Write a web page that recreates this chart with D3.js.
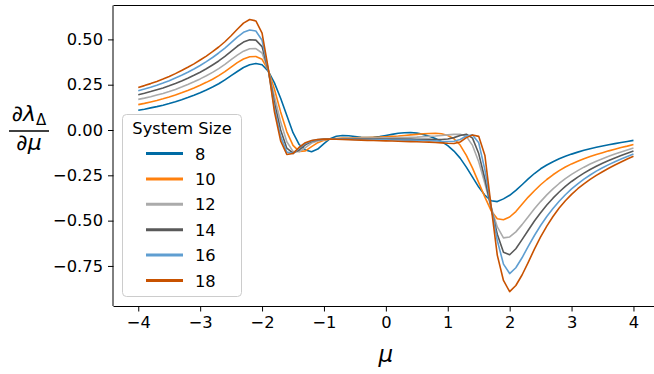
<!DOCTYPE html>
<html>
<head>
<meta charset="utf-8">
<script src="https://cdn.jsdelivr.net/npm/d3@7"></script>
<style>
  body { margin: 0; background: #fff; }
  svg { font-family: "DejaVu Sans", sans-serif; }
  .axis text { font-family: "DejaVu Sans", sans-serif; font-size: 16.3px; fill: #000; }
  .axis path, .axis line { stroke: #000; stroke-width: 1; }
</style>
</head>
<body>
<div id="chart"></div>
<script>
// mu grid, -4 .. 4 in steps of 0.1
const mu = d3.range(81).map(i => +(-4 + i * 0.1).toFixed(1));

const sizes = ["8", "10", "12", "14", "16", "18"];
const colors = ["#006BA4", "#FF800E", "#ABABAB", "#595959", "#5F9ED1", "#C85200"];

const s8 = [
  0.109, 0.115, 0.122, 0.129, 0.137, 0.146, 0.156, 0.167, 0.179, 0.192,
  0.206, 0.221, 0.237, 0.255, 0.277, 0.300, 0.323, 0.345, 0.360, 0.367,
  0.360, 0.325, 0.260, 0.175, 0.080, -0.015, -0.080, -0.110, -0.120, -0.105,
  -0.075, -0.048, -0.034, -0.030, -0.032, -0.036, -0.040, -0.042, -0.040, -0.036,
  -0.030, -0.024, -0.018, -0.015, -0.014, -0.017, -0.024, -0.034, -0.047, -0.064,
  -0.086, -0.116, -0.155, -0.205, -0.260, -0.315, -0.360, -0.390, -0.395, -0.380,
  -0.360, -0.333, -0.302, -0.270, -0.240, -0.214, -0.193, -0.175, -0.159, -0.145,
  -0.133, -0.122, -0.112, -0.103, -0.095, -0.088, -0.081, -0.075, -0.069, -0.063,
  -0.057
];
const s10 = [
  0.140, 0.147, 0.155, 0.163, 0.172, 0.182, 0.193, 0.205, 0.218, 0.232,
  0.247, 0.263, 0.280, 0.300, 0.322, 0.347, 0.372, 0.392, 0.404, 0.406,
  0.390, 0.330, 0.225, 0.100, -0.010, -0.085, -0.118, -0.115, -0.092, -0.070,
  -0.057, -0.050, -0.047, -0.045, -0.044, -0.043, -0.042, -0.041, -0.040, -0.039,
  -0.037, -0.035, -0.033, -0.030, -0.027, -0.024, -0.021, -0.019, -0.018, -0.021,
  -0.030, -0.048, -0.083, -0.140, -0.210, -0.290, -0.370, -0.445, -0.490, -0.495,
  -0.480, -0.450, -0.410, -0.370, -0.335, -0.302, -0.273, -0.247, -0.224, -0.204,
  -0.187, -0.172, -0.158, -0.146, -0.135, -0.125, -0.115, -0.106, -0.097, -0.089,
  -0.080
];
const s12 = [
  0.169, 0.176, 0.184, 0.193, 0.202, 0.212, 0.224, 0.237, 0.251, 0.266,
  0.282, 0.299, 0.318, 0.339, 0.362, 0.388, 0.413, 0.435, 0.448, 0.449,
  0.425, 0.330, 0.185, 0.045, -0.065, -0.118, -0.120, -0.097, -0.072, -0.060,
  -0.053, -0.050, -0.048, -0.047, -0.046, -0.046, -0.045, -0.045, -0.044, -0.044,
  -0.043, -0.043, -0.042, -0.041, -0.040, -0.039, -0.037, -0.035, -0.033, -0.030,
  -0.027, -0.024, -0.023, -0.035, -0.085, -0.175, -0.295, -0.425, -0.535, -0.595,
  -0.590, -0.562, -0.522, -0.478, -0.435, -0.395, -0.358, -0.325, -0.295, -0.268,
  -0.245, -0.224, -0.205, -0.188, -0.172, -0.158, -0.145, -0.133, -0.121, -0.110,
  -0.099
];
const s14 = [
  0.195, 0.203, 0.212, 0.222, 0.232, 0.244, 0.257, 0.271, 0.286, 0.302,
  0.319, 0.338, 0.359, 0.381, 0.406, 0.434, 0.462, 0.485, 0.498, 0.496,
  0.460, 0.330, 0.150, 0.000, -0.100, -0.127, -0.110, -0.082, -0.063, -0.055,
  -0.051, -0.050, -0.050, -0.050, -0.050, -0.050, -0.050, -0.050, -0.050, -0.050,
  -0.050, -0.050, -0.050, -0.050, -0.050, -0.051, -0.051, -0.051, -0.052, -0.052,
  -0.050, -0.042, -0.030, -0.023, -0.045, -0.130, -0.270, -0.430, -0.575, -0.675,
  -0.688, -0.655, -0.605, -0.553, -0.502, -0.456, -0.414, -0.376, -0.342, -0.311,
  -0.284, -0.260, -0.238, -0.218, -0.200, -0.183, -0.168, -0.154, -0.141, -0.128,
  -0.116
];
const s16 = [
  0.217, 0.226, 0.236, 0.247, 0.259, 0.272, 0.287, 0.302, 0.319, 0.337,
  0.356, 0.377, 0.400, 0.425, 0.452, 0.482, 0.513, 0.539, 0.552, 0.546,
  0.495, 0.335, 0.120, -0.035, -0.122, -0.130, -0.100, -0.074, -0.060, -0.053,
  -0.050, -0.050, -0.050, -0.051, -0.051, -0.052, -0.052, -0.053, -0.053, -0.054,
  -0.054, -0.055, -0.055, -0.056, -0.056, -0.057, -0.058, -0.059, -0.060, -0.062,
  -0.063, -0.062, -0.052, -0.033, -0.027, -0.070, -0.220, -0.420, -0.610, -0.740,
  -0.792, -0.760, -0.705, -0.642, -0.582, -0.527, -0.477, -0.433, -0.393, -0.357,
  -0.325, -0.297, -0.271, -0.248, -0.227, -0.208, -0.191, -0.175, -0.160, -0.146,
  -0.132
];
const s18 = [
  0.235, 0.245, 0.256, 0.268, 0.281, 0.295, 0.311, 0.328, 0.346, 0.365,
  0.386, 0.408, 0.432, 0.458, 0.487, 0.520, 0.556, 0.590, 0.610, 0.602,
  0.535, 0.340, 0.100, -0.060, -0.135, -0.130, -0.095, -0.070, -0.058, -0.052,
  -0.050, -0.050, -0.051, -0.052, -0.053, -0.055, -0.056, -0.057, -0.058, -0.059,
  -0.060, -0.061, -0.062, -0.063, -0.064, -0.065, -0.066, -0.067, -0.069, -0.071,
  -0.073, -0.074, -0.066, -0.042, -0.028, -0.035, -0.140, -0.420, -0.690, -0.830,
  -0.892, -0.858, -0.800, -0.730, -0.657, -0.590, -0.530, -0.477, -0.430, -0.390,
  -0.355, -0.324, -0.297, -0.272, -0.250, -0.230, -0.211, -0.193, -0.176, -0.160,
  -0.145
];
const series = [s8, s10, s12, s14, s16, s18];

const xTicks = [-4, -3, -2, -1, 0, 1, 2, 3, 4];
const yTicks = [-0.75, -0.5, -0.25, 0, 0.25, 0.5];

const W = 654, H = 374;
const plotLeft = 113.5, plotTop = 5.5, plotBottom = 306;

const svg = d3.select("#chart").append("svg")
  .attr("width", W)
  .attr("height", H);

const x = d3.scaleLinear().domain([-4.4, 4.4]).range([plotLeft, plotLeft + 8.8 * 61.9]);
const y = d3.scaleLinear().domain([-0.971, 0.687]).range([plotBottom, plotTop]);

// lines (clip to plot area)
svg.append("clipPath").attr("id", "clip")
  .append("rect")
  .attr("x", plotLeft).attr("y", plotTop)
  .attr("width", x.range()[1] - plotLeft).attr("height", plotBottom - plotTop);

const line = d3.line()
  .x((d, i) => x(mu[i]))
  .y(d => y(d));

svg.append("g")
  .attr("clip-path", "url(#clip)")
  .selectAll("path")
  .data(series)
  .enter().append("path")
  .attr("d", line)
  .attr("fill", "none")
  .attr("stroke", (d, i) => colors[i])
  .attr("stroke-width", 1.6)
  .attr("stroke-linejoin", "round");

// axes
svg.append("g")
  .attr("class", "axis")
  .attr("transform", `translate(0,${plotBottom})`)
  .call(d3.axisBottom(x).tickValues(xTicks).tickSize(5.5).tickPadding(5)
    .tickFormat(d => d < 0 ? "\u2212" + Math.abs(d) : d))
  .call(g => g.select(".domain").attr("d", `M${plotLeft},0.5H${W + 10}`));

svg.append("g")
  .attr("class", "axis")
  .attr("transform", `translate(${plotLeft},0)`)
  .call(d3.axisLeft(y).tickValues(yTicks).tickSize(5.5).tickPadding(5)
    .tickFormat(d => (d < 0 ? "\u2212" : "") + Math.abs(d).toFixed(2)))
  .call(g => g.select(".domain").attr("d", `M-0.5,${plotBottom}V${plotTop}`));

// top spine
svg.append("line")
  .attr("x1", plotLeft).attr("x2", W + 10)
  .attr("y1", plotTop).attr("y2", plotTop)
  .attr("stroke", "#000").attr("stroke-width", 1);

// x label
svg.append("text")
  .attr("x", x(0)).attr("y", 362)
  .attr("text-anchor", "middle")
  .attr("font-size", 23)
  .attr("font-style", "italic")
  .text("\u03bc");

// y label as a fraction
const yl = svg.append("g").attr("transform", "translate(29,131)");
const num = yl.append("text").attr("y", -10).attr("text-anchor", "middle")
  .attr("font-size", 22);
num.append("tspan").attr("font-style", "italic").text("\u2202\u03bb");
num.append("tspan").attr("font-size", 15).attr("dy", 4).text("\u0394");
yl.append("line").attr("x1", -20).attr("x2", 20).attr("y1", 0).attr("y2", 0)
  .attr("stroke", "#000").attr("stroke-width", 1.3);
yl.append("text").attr("y", 19).attr("text-anchor", "middle")
  .attr("font-size", 22).attr("font-style", "italic")
  .text("\u2202\u03bc");

// legend
const lg = svg.append("g").attr("transform", "translate(122,114)");
lg.append("rect")
  .attr("x", 0.5).attr("y", 0.5)
  .attr("width", 119).attr("height", 182)
  .attr("rx", 4)
  .attr("fill", "#fff").attr("fill-opacity", 0.8)
  .attr("stroke", "#cccccc").attr("stroke-width", 1);
lg.append("text")
  .attr("x", 60).attr("y", 20)
  .attr("text-anchor", "middle")
  .attr("font-size", 16.3)
  .text("System Size");
sizes.forEach((s, i) => {
  const yy = 39.5 + i * 25.4;
  lg.append("line")
    .attr("x1", 24).attr("x2", 61)
    .attr("y1", yy).attr("y2", yy)
    .attr("stroke", colors[i]).attr("stroke-width", 3);
  lg.append("text")
    .attr("x", 73).attr("y", yy + 6)
    .attr("font-size", 16.3)
    .text(s);
});
</script>
</body>
</html>
